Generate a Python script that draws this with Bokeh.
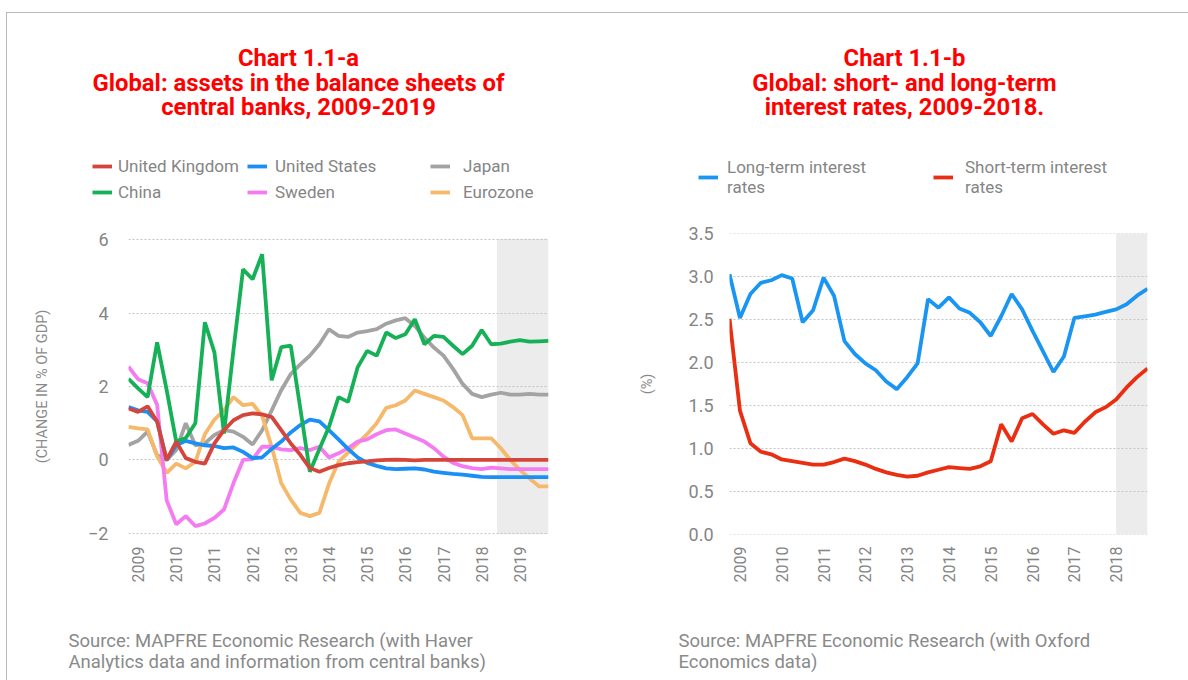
import math
from bokeh.plotting import figure
from bokeh.models import (Range1d, FixedTicker, Legend, LegendItem, Label,
                          BoxAnnotation, PrintfTickFormatter)
from bokeh.layouts import row, column
from bokeh.embed import file_html
from bokeh.resources import INLINE

# ---------------- data: chart a (quarterly, 2008Q4 - 2019Q4) ----------------
quarters_a = [2008.75 + 0.25 * i for i in range(45)]
united_kingdom = [1.40, 1.31, 1.46, 1.04, 0.00, 0.50, 0.05, -0.05, -0.10, 0.45,
                  0.81, 1.08, 1.22, 1.27, 1.24, 1.17, 0.81, 0.45, 0.14, -0.22,
                  -0.32, -0.22, -0.14, -0.09, -0.06, -0.04, -0.01, 0.00, 0.01, 0.00,
                  -0.01, 0.00, 0.00, 0.00, 0.00, 0.00, 0.00, 0.00, 0.00, 0.00,
                  0.00, 0.00, 0.00, 0.00, 0.00]
united_states = [1.44, 1.35, 1.31, 1.05, 0.00, 0.40, 0.52, 0.45, 0.40, 0.38,
                 0.32, 0.34, 0.22, 0.05, 0.07, 0.30, 0.50, 0.75, 0.95, 1.10,
                 1.05, 0.81, 0.56, 0.30, 0.07, -0.08, -0.16, -0.23, -0.25, -0.24,
                 -0.23, -0.26, -0.32, -0.35, -0.38, -0.40, -0.43, -0.46, -0.47, -0.47,
                 -0.47, -0.47, -0.47, -0.47, -0.47]
japan = [0.41, 0.52, 0.77, 0.13, 0.00, 0.27, 1.00, 0.40, 0.45, 0.68,
         0.81, 0.77, 0.63, 0.42, 0.81, 1.35, 1.90, 2.34, 2.60, 2.84,
         3.15, 3.56, 3.38, 3.35, 3.47, 3.51, 3.56, 3.71, 3.80, 3.86,
         3.65, 3.33, 3.06, 2.84, 2.48, 2.07, 1.80, 1.71, 1.78, 1.83,
         1.78, 1.78, 1.80, 1.78, 1.78]
china = [2.21, 1.95, 1.71, 3.20, 1.90, 0.50, 0.60, 1.00, 3.75, 2.93,
         0.72, 3.00, 5.19, 4.92, 5.60, 2.17, 3.07, 3.11, 1.40, -0.32,
         0.30, 0.90, 1.71, 1.58, 2.52, 2.97, 2.84, 3.47, 3.32, 3.42,
         3.83, 3.15, 3.38, 3.35, 3.11, 2.88, 3.11, 3.54, 3.15, 3.17,
         3.22, 3.26, 3.22, 3.23, 3.24]
sweden = [2.54, 2.20, 2.09, 1.50, -1.10, -1.75, -1.53, -1.80, -1.73, -1.58,
          -1.35, -0.63, 0.00, 0.02, 0.36, 0.36, 0.29, 0.27, 0.32, 0.27,
          0.36, 0.07, 0.18, 0.32, 0.50, 0.56, 0.70, 0.81, 0.83, 0.72,
          0.61, 0.50, 0.32, 0.09, -0.08, -0.17, -0.22, -0.25, -0.21, -0.23,
          -0.25, -0.25, -0.25, -0.25, -0.25]
eurozone = [0.90, 0.86, 0.83, 0.10, -0.35, -0.10, -0.23, -0.05, 0.70, 1.10,
            1.35, 1.71, 1.49, 1.53, 1.20, 0.36, -0.63, -1.08, -1.44, -1.53,
            -1.44, -0.65, -0.05, 0.20, 0.45, 0.70, 1.00, 1.42, 1.49, 1.62,
            1.89, 1.80, 1.71, 1.62, 1.44, 1.22, 0.59, 0.59, 0.59, 0.32,
            0.00, -0.27, -0.50, -0.72, -0.72]
years_a = list(range(2009, 2020))
yticks_a = [-2, 0, 2, 4, 6]
forecast_start_a = 2018.4

# ---------------- data: chart b (quarterly, 2008Q4 - 2018Q4) ----------------
quarters_b = [2008.75 + 0.25 * i for i in range(41)]
long_term = [3.03, 2.52, 2.80, 2.93, 2.96, 3.02, 2.98, 2.47, 2.61, 2.99,
             2.78, 2.25, 2.10, 1.99, 1.91, 1.78, 1.69, 1.83, 1.99, 2.74,
             2.64, 2.76, 2.63, 2.58, 2.47, 2.31, 2.54, 2.80, 2.62, 2.37,
             2.13, 1.89, 2.07, 2.52, 2.54, 2.56, 2.59, 2.62, 2.68, 2.78,
             2.86]
short_term = [2.51, 1.44, 1.06, 0.96, 0.93, 0.87, 0.85, 0.83, 0.81, 0.81,
              0.84, 0.88, 0.85, 0.81, 0.76, 0.72, 0.69, 0.67, 0.68, 0.72,
              0.75, 0.78, 0.77, 0.76, 0.79, 0.85, 1.28, 1.08, 1.35, 1.40,
              1.28, 1.17, 1.21, 1.18, 1.31, 1.42, 1.48, 1.57, 1.71, 1.83,
              1.93]
years_b = list(range(2009, 2019))
yticks_b = [0.0, 0.5, 1.0, 1.5, 2.0, 2.5, 3.0, 3.5]
forecast_start_b = 2018.0

title_a = ["Chart 1.1-a", "Global: assets in the balance sheets of",
           "central banks, 2009-2019"]
source_a = ["Source: MAPFRE Economic Research (with Haver",
            "Analytics data and information from central banks)"]
title_b = ["Chart 1.1-b", "Global: short- and long-term", "interest rates, 2009-2018."]
source_b = ["Source: MAPFRE Economic Research (with Oxford", "Economics data)"]

colors = {
    "United Kingdom": "#d4463c", "United States": "#1b8ff5", "Japan": "#a3a3a3",
    "China": "#16b157", "Sweden": "#f47cf0", "Eurozone": "#f6b86a",
    "long": "#1a96f2", "short": "#ea2e12",
}
series_a = {"United Kingdom": united_kingdom, "United States": united_states,
            "Japan": japan, "China": china, "Sweden": sweden, "Eurozone": eurozone}
series_b = {"long": long_term, "short": short_term}

FONT = "Roboto"
GREY = "#858585"
TITLE_RED = "#ff0000"
LW = 3.8
W = 594
HEAD_H = 215
FOOT_H = 80
MAIN_H = 680 - HEAD_H - FOOT_H
LINE_CSS = "linear-gradient(#b8b8b8, #b8b8b8)"


def blank_fig(height, css):
    f = figure(width=W, height=height, x_range=Range1d(0, W), y_range=Range1d(0, height),
               output_backend="svg", toolbar_location=None, min_border=0,
               x_axis_type=None, y_axis_type=None)
    f.frame_align = False
    f.outline_line_color = None
    f.background_fill_color = None
    f.border_fill_color = None
    f.styles = {"background": css}
    return f


def style(p, years, yticks):
    p.frame_align = False
    p.outline_line_color = None
    p.background_fill_color = "white"
    p.border_fill_color = None
    p.xgrid.visible = False
    p.ygrid.grid_line_color = "#c4c4c4"
    p.ygrid.grid_line_dash = "2 2"
    p.ygrid.grid_line_width = 1
    p.xaxis.ticker = FixedTicker(ticks=years)
    p.yaxis.ticker = FixedTicker(ticks=yticks)
    for ax in (p.xaxis[0], p.yaxis[0]):
        ax.axis_line_color = None
        ax.major_tick_line_color = None
        ax.minor_tick_line_color = None
        ax.major_tick_out = 0
        ax.major_tick_in = 0
        ax.major_label_text_color = GREY
        ax.major_label_text_font = FONT
        ax.axis_label_text_color = "#8a8a8a"
        ax.axis_label_text_font = FONT
        ax.axis_label_text_font_style = "normal"
        ax.axis_label_text_font_size = "14.5px"
    p.xaxis.major_label_orientation = math.pi / 2
    p.xaxis.major_label_text_font_size = "16px"
    p.xaxis.major_label_standoff = 12
    p.yaxis.major_label_text_font_size = "18px"


def add_titles(h, cx, lines):
    for txt, yy in zip(lines, [HEAD_H - 57, HEAD_H - 82, HEAD_H - 106]):
        h.add_layout(Label(x=cx, y=yy, text=txt, text_align="center",
                           text_baseline="middle", text_color=TITLE_RED,
                           text_font=FONT, text_font_size="23.8px", text_font_style="bold"))


def add_source(f, sx, lines):
    for txt, yy in zip(lines, [FOOT_H - 40, FOOT_H - 61]):
        f.add_layout(Label(x=sx, y=yy, text=txt, text_align="left",
                           text_baseline="middle", text_color="#8a8a8a",
                           text_font=FONT, text_font_size="18.5px"))


def make_legend(items, loc, standoff):
    return Legend(items=items, location=loc, orientation="vertical",
                  background_fill_alpha=0, border_line_color=None, padding=0,
                  margin=0, spacing=6, glyph_width=20, glyph_height=20,
                  label_height=20, label_standoff=standoff,
                  label_text_font=FONT, label_text_font_size="17px",
                  label_text_color=GREY)


def legend_items(h, xs, series, names, labels=None):
    # legend keys reuse the series' own data; it lies outside this header's ranges
    items = []
    for k, name in enumerate(names):
        r = h.line(xs, series[name], line_color=colors[name], line_width=LW)
        items.append(LegendItem(label=(labels[k] if labels else name), renderers=[r]))
    return items


# ---------------- chart a ----------------
left_css_top = (f"{LINE_CSS} 6px 12px / 1px 100% no-repeat, "
                f"{LINE_CSS} 6px 12px / 100% 1px no-repeat, white")
left_css = f"{LINE_CSS} 6px 0 / 1px 100% no-repeat, white"

ha = blank_fig(HEAD_H, left_css_top)
add_titles(ha, 298, title_a)
ha.add_layout(make_legend(legend_items(ha, quarters_a, series_a, ["United Kingdom", "China"]),
                          (92, 13), 6))
ha.add_layout(make_legend(legend_items(ha, quarters_a, series_a, ["United States", "Sweden"]),
                          (247, 13), 8))
ha.add_layout(make_legend(legend_items(ha, quarters_a, series_a, ["Japan", "Eurozone"]),
                          (430, 13), 13))

pa = figure(width=W, height=MAIN_H, x_range=Range1d(quarters_a[0], quarters_a[-1]),
            y_range=Range1d(-2.03, 6.03), output_backend="svg", toolbar_location=None,
            min_border_left=128, min_border_right=46, min_border_top=23,
            min_border_bottom=66)
style(pa, years_a, yticks_a)
pa.styles = {"background": left_css}
pa.yaxis.major_label_standoff = 20
pa.yaxis.axis_label = "(CHANGE IN % OF GDP)"
pa.yaxis.axis_label_standoff = 34
pa.add_layout(BoxAnnotation(left=forecast_start_a, fill_color="#ececec", fill_alpha=1,
                            line_color=None, level="image"))
for name in ["Japan", "Eurozone", "Sweden", "United States", "China", "United Kingdom"]:
    pa.line(quarters_a, series_a[name], line_color=colors[name], line_width=LW)

fa = blank_fig(FOOT_H, left_css)
add_source(fa, 68, source_a)

# ---------------- chart b ----------------
right_css_top = f"{LINE_CSS} 0 12px / 100% 1px no-repeat, white"

hb = blank_fig(HEAD_H, right_css_top)
add_titles(hb, 310, title_b)
hb.add_layout(make_legend(legend_items(hb, quarters_b, series_b, ["long"],
                                       ["Long-term interest\nrates"]), (104, 18), 9))
hb.add_layout(make_legend(legend_items(hb, quarters_b, series_b, ["short"],
                                       ["Short-term interest\nrates"]), (339, 18), 12))

pb = figure(width=W, height=MAIN_H, x_range=Range1d(quarters_b[0], quarters_b[-1]),
            y_range=Range1d(-0.005, 3.505), output_backend="svg", toolbar_location=None,
            min_border_left=135, min_border_right=41, min_border_top=18,
            min_border_bottom=66)
style(pb, years_b, yticks_b)
pb.styles = {"background": "white"}
pb.yaxis.formatter = PrintfTickFormatter(format="%.1f")
pb.yaxis.major_label_standoff = 16
pb.yaxis.axis_label = "(%)"
pb.yaxis.axis_label_standoff = 30
pb.add_layout(BoxAnnotation(left=forecast_start_b, fill_color="#ececec", fill_alpha=1,
                            line_color=None, level="image"))
pb.line(quarters_b, long_term, line_color=colors["long"], line_width=LW)
pb.line(quarters_b, short_term, line_color=colors["short"], line_width=LW)

fb = blank_fig(FOOT_H, "white")
add_source(fb, 84, source_b)

layout = row(column(ha, pa, fa), column(hb, pb, fb))
open("out.html", "w").write(file_html(layout, INLINE))
